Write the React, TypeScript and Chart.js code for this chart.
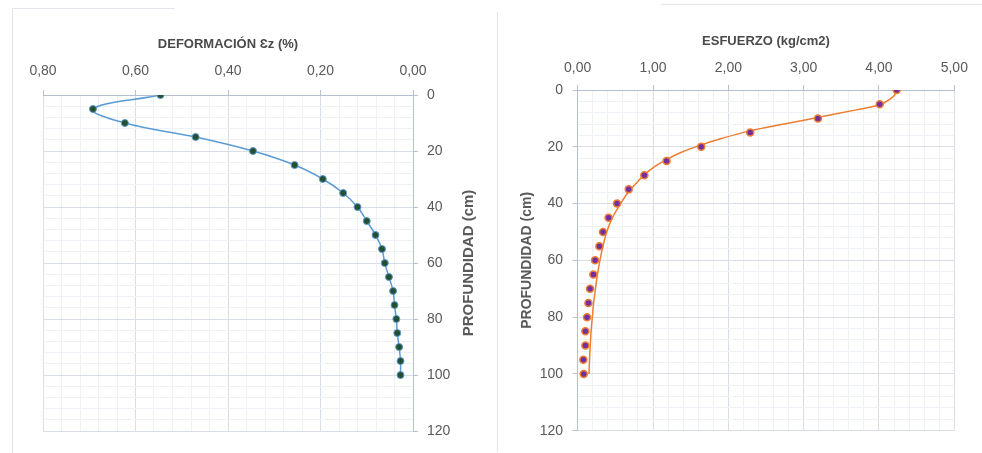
import React, { useEffect, useRef } from 'react';
import { Chart, registerables } from 'chart.js';

Chart.register(...registerables);

// ---------- data ----------
const depthCm = [0, 5, 10, 15, 20, 25, 30, 35, 40, 45, 50, 55, 60, 65, 70, 75, 80, 85, 90, 95, 100];
const deformationPct = [0.546, 0.692, 0.623, 0.47, 0.346, 0.256, 0.195, 0.151, 0.12, 0.1, 0.081, 0.067, 0.061, 0.052, 0.043, 0.04, 0.036, 0.034, 0.03, 0.027, 0.027];
const stressKgCm2 = [4.235, 4.01, 3.19, 2.29, 1.64, 1.18, 0.885, 0.677, 0.522, 0.41, 0.336, 0.288, 0.23, 0.208, 0.164, 0.142, 0.124, 0.102, 0.102, 0.075, 0.08];
const trendDepthCm = [0, 2, 4, 5.3, 7, 9.6, 12, 14.4, 17, 19.5, 22, 24.5, 27, 30, 33, 36, 40, 45, 50, 55, 60, 65, 70, 75, 80, 85, 90, 95, 100];
const trendStressKgCm2 = [4.24, 4.2, 4.1, 4.0, 3.7, 3.2, 2.74, 2.29, 1.92, 1.62, 1.37, 1.18, 1.02, 0.88, 0.77, 0.67, 0.57, 0.46, 0.385, 0.335, 0.295, 0.262, 0.236, 0.212, 0.194, 0.178, 0.166, 0.157, 0.15];

const deformationAxis = { min: 0, max: 0.8, minorStep: 0.04, majorStep: 0.2 };
const stressAxis = { min: 0, max: 5, minorStep: 0.2, majorStep: 1 };
const depthAxis = { min: 0, max: 120, minorStep: 4, majorStep: 20 };

const deformationTitle = 'DEFORMACIÓN Ɛz (%)';
const stressTitle = 'ESFUERZO (kg/cm2)';
const depthTitle = 'PROFUNDIDAD (cm)';

// ---------- styles ----------
const FONT = "'Liberation Sans', Arial, 'DejaVu Sans', sans-serif";
const TEXT = '#595959';
const TITLE = '#4a4a4a';
const MAJOR = '#d9dee6';
const MINOR = '#eef1f5';
const AXIS = '#b4bfcf';

const isMajor = (v: number, step: number) => Math.abs(v / step - Math.round(v / step)) < 1e-6;
const fmt = (v: number) => Number(v).toFixed(2).replace('.', ',');

function gridOpts(majorStep: number) {
  return {
    color: (c: any) => (c.tick && isMajor(c.tick.value, majorStep) ? MAJOR : MINOR),
    tickColor: (c: any) => (c.tick && isMajor(c.tick.value, majorStep) ? AXIS : 'rgba(0,0,0,0)'),
    tickLength: 5,
    drawTicks: true,
    lineWidth: 1,
  };
}

function LeftChart() {
  const ref = useRef<HTMLCanvasElement>(null);
  useEffect(() => {
    const yTitlePlugin = {
      id: 'yTitleRight',
      afterDraw(chart: any) {
        const ctx = chart.ctx;
        const area = chart.chartArea;
        ctx.save();
        ctx.translate(469, (area.top + area.bottom) / 2);
        ctx.rotate(-Math.PI / 2);
        ctx.font = `bold 15px ${FONT}`;
        ctx.fillStyle = TEXT;
        ctx.textAlign = 'center';
        ctx.textBaseline = 'middle';
        ctx.fillText(depthTitle, 0, 0);
        ctx.restore();
      },
    };
    const chart = new Chart(ref.current!, {
      type: 'scatter',
      data: {
        datasets: [
          {
            data: depthCm.map((d, i) => ({ x: deformationPct[i], y: d })),
            showLine: true,
            borderColor: '#5b9bd5',
            borderWidth: 1.5,
            tension: 0.4,
            pointRadius: 3.5,
            pointBackgroundColor: '#24502f',
            pointBorderColor: '#5b9bd5',
            pointBorderWidth: 1,
          },
        ],
      },
      options: {
        responsive: false,
        animation: false,
        layout: { padding: { left: 43, right: 0, top: 0, bottom: 22 } },
        plugins: { legend: { display: false }, tooltip: { enabled: false } },
        scales: {
          x: {
            type: 'linear',
            position: 'top',
            min: deformationAxis.min,
            max: deformationAxis.max,
            reverse: true,
            ticks: {
              stepSize: deformationAxis.minorStep,
              maxTicksLimit: 200,
              autoSkip: false,
              maxRotation: 0,
              padding: 10.6,
              color: TEXT,
              font: { family: FONT, size: 14 },
              callback: (v: any) => (isMajor(v, deformationAxis.majorStep) ? fmt(v) : ''),
            },
            grid: gridOpts(deformationAxis.majorStep),
            border: { display: true, color: AXIS, width: 1 },
            title: {
              display: true,
              text: deformationTitle,
              color: TITLE,
              font: { family: FONT, size: 13, weight: 'bold' },
              padding: { top: 37, bottom: 0 },
            },
            afterFit: (s: any) => {
              s.height = 95;
            },
          },
          y: {
            type: 'linear',
            position: 'right',
            min: depthAxis.min,
            max: depthAxis.max,
            reverse: true,
            ticks: {
              stepSize: depthAxis.minorStep,
              maxTicksLimit: 200,
              autoSkip: false,
              padding: 9,
              color: TEXT,
              font: { family: FONT, size: 14 },
              callback: (v: any) => (isMajor(v, depthAxis.majorStep) ? String(v) : ''),
            },
            grid: gridOpts(depthAxis.majorStep),
            border: { display: true, color: AXIS, width: 1 },
            afterFit: (s: any) => {
              s.width = 78;
            },
          },
        },
      } as any,
      plugins: [yTitlePlugin],
    });
    return () => chart.destroy();
  }, []);
  return <canvas ref={ref} width={491} height={453} style={{ position: 'absolute', left: 0, top: 0, display: 'block' }} />;
}

function RightChart() {
  const ref = useRef<HTMLCanvasElement>(null);
  useEffect(() => {
    const chart = new Chart(ref.current!, {
      type: 'scatter',
      data: {
        datasets: [
          {
            data: depthCm.map((d, i) => ({ x: stressKgCm2[i], y: d })),
            showLine: false,
            pointRadius: 3.5,
            pointBackgroundColor: '#7030a0',
            pointBorderColor: '#ed7d31',
            pointBorderWidth: 1.5,
          },
          {
            data: trendDepthCm.map((d, i) => ({ x: trendStressKgCm2[i], y: d })),
            showLine: true,
            borderColor: '#ed7d31',
            borderWidth: 1.5,
            tension: 0.4,
            pointRadius: 0,
          },
        ],
      },
      options: {
        responsive: false,
        animation: false,
        layout: { padding: { left: 0, right: 27.7, top: 0, bottom: 22.3 } },
        plugins: { legend: { display: false }, tooltip: { enabled: false } },
        scales: {
          x: {
            type: 'linear',
            position: 'top',
            min: stressAxis.min,
            max: stressAxis.max,
            ticks: {
              stepSize: stressAxis.minorStep,
              maxTicksLimit: 200,
              autoSkip: false,
              maxRotation: 0,
              padding: 8.6,
              color: TEXT,
              font: { family: FONT, size: 14 },
              callback: (v: any) => (isMajor(v, stressAxis.majorStep) ? fmt(v) : ''),
            },
            grid: gridOpts(stressAxis.majorStep),
            border: { display: true, color: AXIS, width: 1 },
            title: {
              display: true,
              text: stressTitle,
              color: TITLE,
              font: { family: FONT, size: 13, weight: 'bold' },
              padding: { top: 34, bottom: 0 },
            },
            afterFit: (s: any) => {
              s.height = 90;
            },
          },
          y: {
            type: 'linear',
            position: 'left',
            min: depthAxis.min,
            max: depthAxis.max,
            reverse: true,
            ticks: {
              stepSize: depthAxis.minorStep,
              maxTicksLimit: 200,
              autoSkip: false,
              padding: 9.7,
              color: TEXT,
              font: { family: FONT, size: 14 },
              callback: (v: any) => (isMajor(v, depthAxis.majorStep) ? String(v) : ''),
            },
            grid: gridOpts(depthAxis.majorStep),
            border: { display: true, color: AXIS, width: 1 },
            title: {
              display: true,
              text: depthTitle,
              color: TEXT,
              font: { family: FONT, size: 14, weight: 'bold' },
              padding: { top: 27.6, bottom: 0 },
            },
            afterFit: (s: any) => {
              s.width = 86.7;
            },
          },
        },
      } as any,
    });
    return () => chart.destroy();
  }, []);
  return <canvas ref={ref} width={491} height={453} style={{ position: 'absolute', left: 491, top: 0, display: 'block' }} />;
}

export default function App() {
  const line = '#e2e5ea';
  return (
    <div style={{ position: 'fixed', left: 0, top: 0, width: 982, height: 453, background: '#fff', overflow: 'hidden' }}>
      <div style={{ position: 'absolute', left: 12, top: 8, width: 1, height: 445, background: line }} />
      <div style={{ position: 'absolute', left: 12, top: 8, width: 163, height: 1, background: line }} />
      <div style={{ position: 'absolute', left: 497, top: 12, width: 1, height: 440, background: line }} />
      <div style={{ position: 'absolute', left: 661, top: 4, width: 321, height: 1, background: line }} />
      <LeftChart />
      <RightChart />
    </div>
  );
}
